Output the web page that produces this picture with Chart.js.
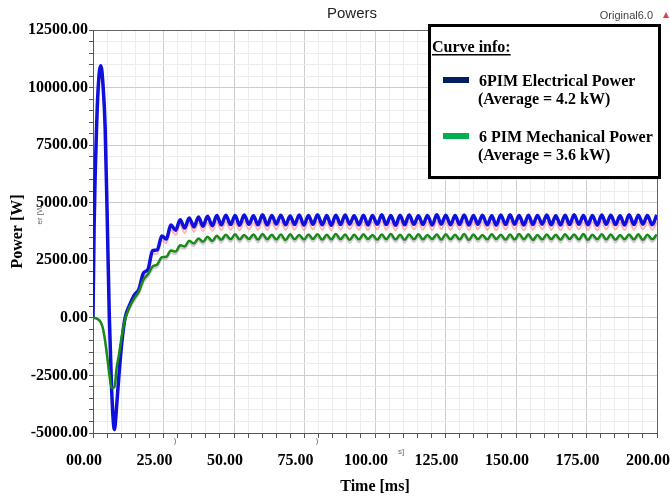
<!DOCTYPE html>
<html>
<head>
<meta charset="utf-8">
<script src="https://cdn.jsdelivr.net/npm/chart.js@4.4.1/dist/chart.umd.min.js"></script>
<style>
  body { margin: 0; background: #fff; }
  #wrap { width: 670px; height: 499px; }
</style>
</head>
<body>
<div id="wrap"><canvas id="powers" width="670" height="499"></canvas></div>
<script>
// time axis [ms]
var timeMs = [0, 0.4, 1.3, 2.0, 2.8, 3.5, 4.3, 5.1, 5.8, 6.6, 7.6, 8.4, 9.2, 10.2, 11.3,
  13.0, 14.6, 16.3, 17.9, 19.5, 21.1, 22.8, 24.4, 26.0, 27.6,
  29.3, 30.9, 32.5, 34.1, 35.8, 37.4, 39.0, 40.6, 42.3, 43.9,
  45.5, 47.1, 48.8, 50.4, 52.0, 53.6, 55.3, 56.9, 58.5, 60.1,
  61.8, 63.4, 65.0, 66.6, 68.3, 69.9, 71.5, 73.1, 74.8, 76.4,
  78.0, 79.6, 81.3, 82.9, 84.5, 86.1, 87.8, 89.4, 91.0, 92.6,
  94.3, 95.9, 97.5, 99.1, 100.8, 102.4, 104.0, 105.6, 107.3, 108.9,
  110.5, 112.1, 113.8, 115.4, 117.0, 118.6, 120.3, 121.9, 123.5, 125.1,
  126.8, 128.4, 130.0, 131.6, 133.3, 134.9, 136.5, 138.1, 139.8, 141.4,
  143.0, 144.6, 146.3, 147.9, 149.5, 151.1, 152.8, 154.4, 156.0, 157.6,
  159.3, 160.9, 162.5, 164.1, 165.8, 167.4, 169.0, 170.6, 172.3, 173.9,
  175.5, 177.1, 178.8, 180.4, 182.0, 183.6, 185.3, 186.9, 188.5, 190.1,
  191.8, 193.4, 195.0, 196.6, 198.3, 199.9];

// 6PIM electrical power [W]
var electrical = [0, 4000, 8400, 10300, 10950, 10200, 8300, 4000, 0, -3100, -4850, -3800, -2500, -1100, -50,
  560, 980, 1250, 1950, 2100, 2920, 2950, 3560, 3420, 4030,
  3800, 4260, 3900, 4340, 3950, 4380, 3980, 4410, 4000, 4440,
  4030, 4460, 4050, 4440, 4020, 4470, 4060, 4430, 4040, 4480,
  4030, 4450, 4070, 4460, 4040, 4420, 4050, 4470, 4030, 4450,
  4060, 4480, 4040, 4440, 4020, 4460, 4050, 4470, 4070, 4430,
  4040, 4460, 4030, 4450, 4060, 4480, 4050, 4440, 4020, 4460,
  4040, 4470, 4060, 4430, 4050, 4450, 4030, 4480, 4070, 4460,
  4040, 4440, 4050, 4470, 4030, 4450, 4060, 4460, 4040, 4430,
  4020, 4470, 4050, 4480, 4060, 4440, 4030, 4460, 4050, 4450,
  4070, 4470, 4040, 4430, 4030, 4460, 4050, 4480, 4060, 4440,
  4040, 4450, 4020, 4470, 4060, 4460, 4050, 4430, 4030, 4480,
  4050, 4460, 4070, 4440, 4040, 4470];

// faint reference trace under the electrical curve
var electricalRef = [0, 3900, 8200, 10000, 10600, 9900, 8000, 3800, -150, -3000, -4600, -3700, -2450, -1100, -100,
  450, 850, 1120, 1800, 1960, 2760, 2790, 3380, 3240, 3830,
  3600, 4040, 3680, 4100, 3740, 4120, 3770, 4130, 3780, 4150,
  3810, 4160, 3830, 4140, 3800, 4170, 3840, 4130, 3820, 4180,
  3810, 4150, 3850, 4160, 3820, 4120, 3830, 4170, 3810, 4150,
  3840, 4180, 3820, 4140, 3800, 4160, 3830, 4170, 3850, 4130,
  3820, 4160, 3810, 4150, 3840, 4180, 3830, 4140, 3800, 4160,
  3820, 4170, 3840, 4130, 3830, 4150, 3810, 4180, 3850, 4160,
  3820, 4140, 3830, 4170, 3810, 4150, 3840, 4160, 3820, 4130,
  3800, 4170, 3830, 4180, 3840, 4140, 3810, 4160, 3830, 4150,
  3850, 4170, 3820, 4130, 3810, 4160, 3830, 4180, 3840, 4140,
  3820, 4150, 3800, 4170, 3840, 4160, 3830, 4130, 3810, 4180,
  3830, 4160, 3850, 4140, 3820, 4170];

// 6 PIM mechanical power [W]
var mechanical = [0, -5, -30, -80, -200, -450, -1000, -1750, -2450, -3050, -3000, -2150, -1600, -800, -100,
  480, 840, 1150, 1660, 1890, 2220, 2320, 2630, 2650, 2930,
  2880, 3150, 3100, 3350, 3230, 3450, 3300, 3520, 3340, 3570,
  3390, 3610, 3410, 3630, 3400, 3600, 3420, 3620, 3390, 3640,
  3410, 3610, 3400, 3620, 3380, 3630, 3410, 3600, 3400, 3620,
  3420, 3630, 3390, 3610, 3400, 3640, 3410, 3620, 3380, 3610,
  3400, 3630, 3420, 3600, 3390, 3620, 3410, 3640, 3400, 3610,
  3380, 3620, 3410, 3630, 3400, 3600, 3420, 3620, 3390, 3630,
  3410, 3610, 3400, 3640, 3380, 3620, 3410, 3600, 3400, 3630,
  3420, 3610, 3390, 3620, 3400, 3640, 3410, 3630, 3380, 3600,
  3400, 3620, 3410, 3610, 3390, 3630, 3420, 3620, 3400, 3640,
  3380, 3610, 3410, 3630, 3400, 3620, 3390, 3600, 3410, 3620,
  3400, 3630, 3380, 3610, 3410, 3620];

// faint reference trace under the mechanical curve
var mechanicalRef = [0, -5, -30, -80, -200, -450, -1000, -1750, -2450, -3050, -3050, -2250, -1650, -850, -150,
  380, 730, 1040, 1550, 1780, 2110, 2210, 2520, 2540, 2820,
  2770, 3040, 2990, 3240, 3120, 3340, 3190, 3410, 3230, 3460,
  3270, 3490, 3290, 3510, 3280, 3480, 3300, 3500, 3270, 3520,
  3290, 3490, 3280, 3500, 3260, 3510, 3290, 3480, 3280, 3500,
  3300, 3510, 3270, 3490, 3280, 3520, 3290, 3500, 3260, 3490,
  3280, 3510, 3300, 3480, 3270, 3500, 3290, 3520, 3280, 3490,
  3260, 3500, 3290, 3510, 3280, 3480, 3300, 3500, 3270, 3510,
  3290, 3490, 3280, 3520, 3260, 3500, 3290, 3480, 3280, 3510,
  3300, 3490, 3270, 3500, 3280, 3520, 3290, 3510, 3260, 3480,
  3280, 3500, 3290, 3490, 3270, 3510, 3300, 3500, 3280, 3520,
  3260, 3490, 3290, 3510, 3280, 3500, 3270, 3480, 3290, 3500,
  3280, 3510, 3260, 3490, 3290, 3500];

var xTickLabels = ['00.00', '25.00', '50.00', '75.00', '100.00', '125.00', '150.00', '175.00', '200.00'];
var curveNames = ['6PIM Electrical Power', '6 PIM Mechanical Power'];
var curveAverages = ['(Average = 4.2 kW)', '(Average = 3.6 kW)'];
var chartTitle = 'Powers';

var serif = '"Liberation Serif", "Times New Roman", serif';
var sans = '"Liberation Sans", Arial, sans-serif';

function toPoints(ys) {
  return timeMs.map(function(t, i) { return { x: t, y: ys[i] }; });
}

function stepTicks(min, max, step) {
  var out = [];
  for (var v = min; v <= max + 1e-9; v += step) out.push({ value: v });
  return out;
}

var decorPlugin = {
  id: 'decor',
  afterDraw: function(chart) {
    var ctx = chart.ctx;
    ctx.save();

    ctx.fillStyle = '#222';
    ctx.font = '15px ' + sans;
    ctx.textAlign = 'center';
    ctx.textBaseline = 'middle';
    ctx.fillText(chartTitle, 352, 14);

    ctx.font = '11px ' + sans;
    ctx.fillStyle = '#444';
    ctx.textAlign = 'right';
    ctx.fillText('Original6.0', 653, 16);
    ctx.fillStyle = '#e04040';
    ctx.beginPath();
    ctx.moveTo(666, 12); ctx.lineTo(669, 18); ctx.lineTo(663, 18);
    ctx.closePath(); ctx.fill();

    // leftover bits of the pasted picture
    ctx.fillStyle = '#666';
    ctx.font = '8px ' + sans;
    ctx.textAlign = 'center';
    ctx.fillText('s]', 401, 452);
    ctx.fillText(')', 175, 441);
    ctx.fillText(')', 317, 441);
    ctx.save();
    ctx.translate(40, 215);
    ctx.rotate(-Math.PI / 2);
    ctx.fillText('er [W', 0, 0);
    ctx.restore();

    // legend box
    ctx.fillStyle = '#fff';
    ctx.fillRect(429, 25, 231, 153);
    ctx.lineWidth = 3;
    ctx.strokeStyle = '#000';
    ctx.strokeRect(429.5, 25.5, 230, 152);

    ctx.fillStyle = '#000';
    ctx.textAlign = 'left';
    ctx.textBaseline = 'alphabetic';
    ctx.font = 'bold 16px ' + serif;
    ctx.fillText('Curve info:', 432, 52);
    var w = ctx.measureText('Curve info:').width;
    ctx.fillRect(432, 54, w, 1.5);

    var swatch = ['#002060', '#00b050'];
    var top = [86, 142];
    for (var i = 0; i < curveNames.length; i++) {
      ctx.fillStyle = swatch[i];
      ctx.fillRect(443, top[i] - 9, 26, 6);
      ctx.fillStyle = '#000';
      ctx.fillText(curveNames[i], 479, top[i]);
      ctx.fillText(curveAverages[i], 478, top[i] + 18);
    }
    ctx.restore();
  }
};

var ctx = document.getElementById('powers');
var chart = new Chart(ctx, {
  type: 'line',
  data: {
    datasets: [
      { label: curveNames[1], data: toPoints(mechanical), borderColor: '#178a17', borderWidth: 2.5, order: 0 },
      { label: curveNames[0], data: toPoints(electrical), borderColor: '#1010dc', borderWidth: 3.5, order: 1 },
      { label: 'ref electrical', data: toPoints(electricalRef), borderColor: 'rgba(255,120,120,0.55)', borderWidth: 2, order: 2 },
      { label: 'ref mechanical', data: toPoints(mechanicalRef), borderColor: 'rgba(190,150,190,0.55)', borderWidth: 2, order: 3 }
    ]
  },
  options: {
    responsive: false,
    animation: false,
    devicePixelRatio: 1,
    layout: { padding: { top: 30, right: 13, left: 0, bottom: 0 } },
    elements: {
      point: { radius: 0 },
      line: { cubicInterpolationMode: 'monotone', fill: false }
    },
    plugins: {
      legend: { display: false },
      title: { display: false },
      tooltip: { enabled: false }
    },
    scales: {
      x: {
        type: 'linear',
        min: 0,
        max: 200,
        afterBuildTicks: function(s) { s.ticks = stepTicks(0, 200, 5); },
        afterFit: function(s) { s.height = 66; s.paddingLeft = 0; s.paddingRight = 0; },
        border: { color: '#555', width: 1 },
        grid: {
          color: function(c) {
            var v = c.tick.value;
            if (v === 200) return '#666';
            return v % 25 === 0 ? '#cdcdcd' : '#ececec';
          },
          tickColor: '#555',
          tickLength: 5
        },
        ticks: {
          autoSkip: false,
          maxRotation: 0,
          padding: 13,
          labelOffset: -9,
          color: '#000',
          font: { family: serif, size: 16, weight: 'bold' },
          callback: function(v) { return v % 25 === 0 ? xTickLabels[v / 25] : ''; }
        },
        title: {
          display: true,
          text: 'Time [ms]',
          color: '#000',
          font: { family: serif, size: 16, weight: 'bold' },
          padding: { top: 0, bottom: 3 }
        }
      },
      y: {
        min: -5000,
        max: 12500,
        afterBuildTicks: function(s) { s.ticks = stepTicks(-5000, 12500, 500); },
        afterFit: function(s) { s.width = 93; s.paddingTop = 0; s.paddingBottom = 0; },
        border: { color: '#555', width: 1 },
        grid: {
          color: function(c) {
            var v = c.tick.value;
            if (v === 12500) return '#666';
            return v % 2500 === 0 ? '#cdcdcd' : '#ececec';
          },
          tickColor: '#555',
          tickLength: 4
        },
        ticks: {
          autoSkip: false,
          padding: 1,
          color: '#000',
          font: { family: serif, size: 16, weight: 'bold' },
          callback: function(v) { return v % 2500 === 0 ? v.toFixed(2) : ''; }
        },
        title: {
          display: true,
          text: 'Power [W]',
          color: '#000',
          font: { family: serif, size: 16, weight: 'bold' },
          padding: { top: 8, bottom: 0 }
        }
      }
    }
  },
  plugins: [decorPlugin]
});
</script>
</body>
</html>
